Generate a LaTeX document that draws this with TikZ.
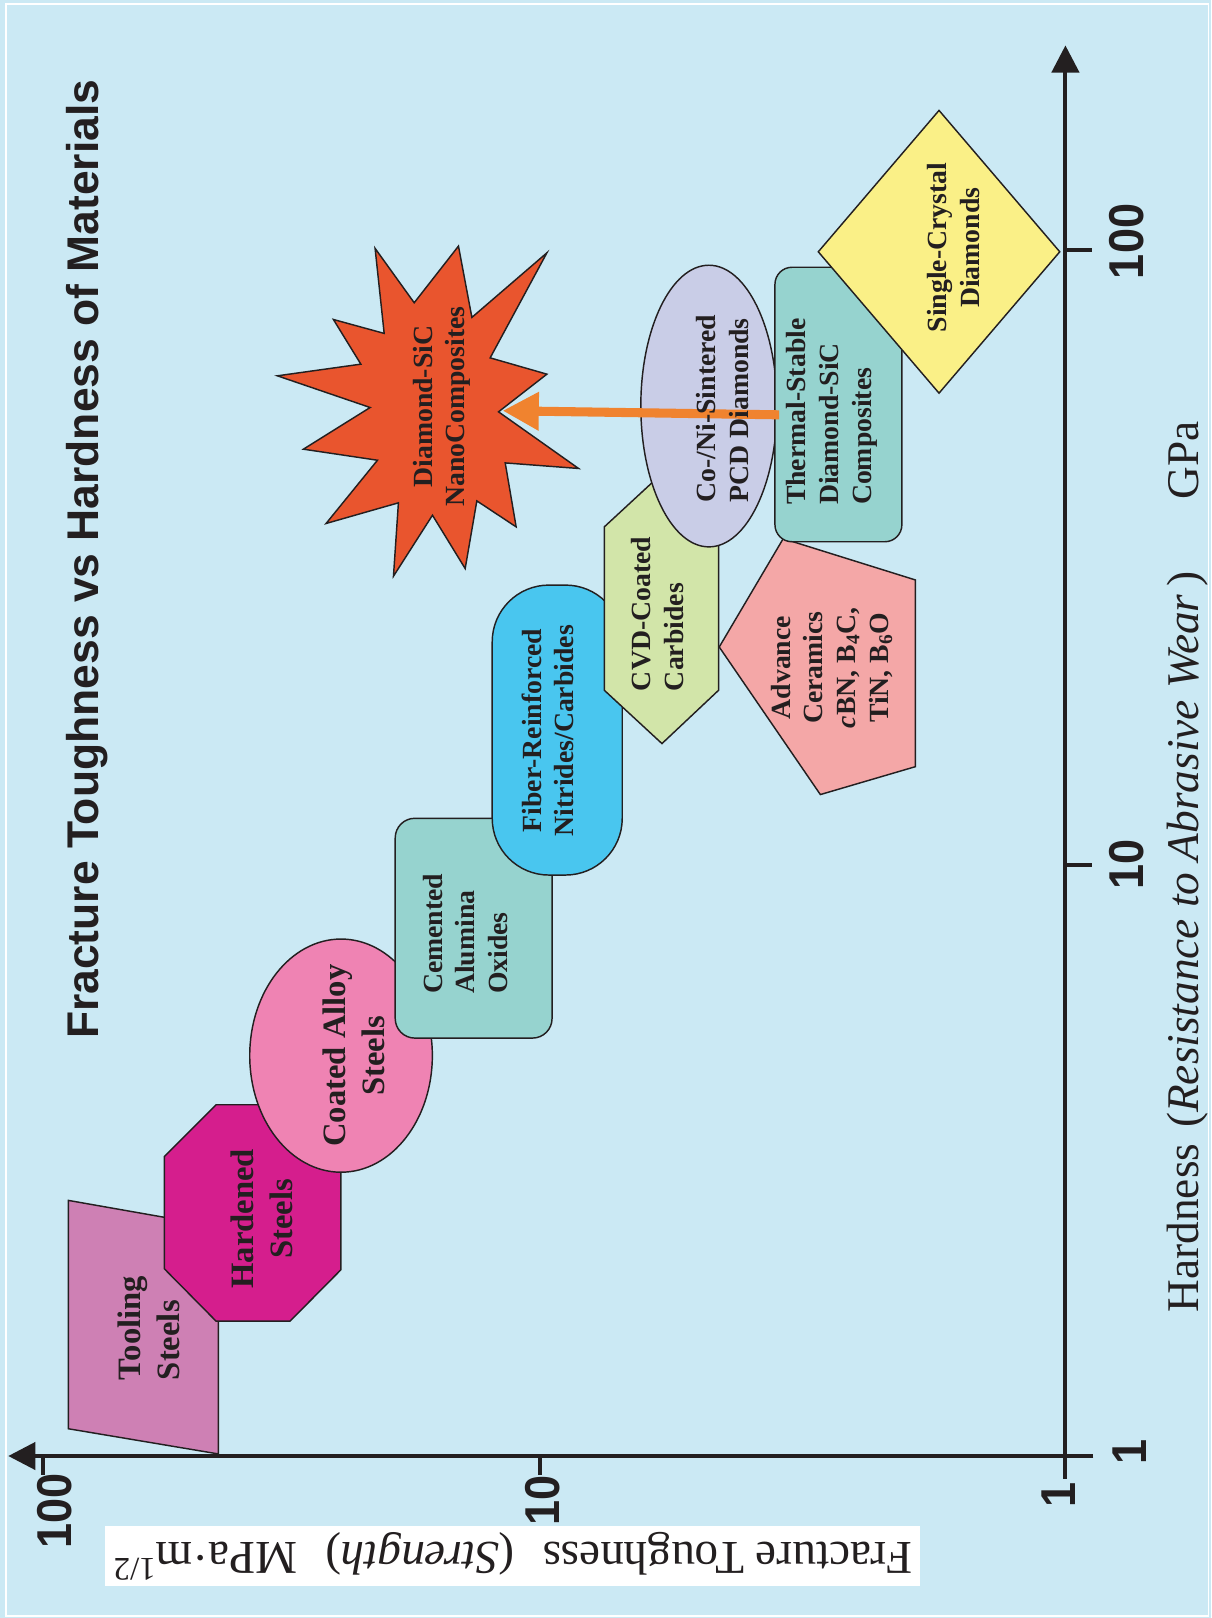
\documentclass[tikz,border=0pt]{standalone}
\usepackage{fontspec}
\setmainfont{Liberation Serif}
\newfontfamily\sansbold[FakeStretch=0.92]{Liberation Sans}
\newfontfamily\titlesans{Liberation Sans}
\usetikzlibrary{arrows.meta}

\definecolor{bgblue}{HTML}{CBE9F4}
\definecolor{textdark}{HTML}{231F20}
\definecolor{toolpink}{HTML}{CE80B4}
\definecolor{hardmag}{HTML}{D51E8D}
\definecolor{coatpink}{HTML}{EF83B3}
\definecolor{tealbox}{HTML}{96D3CF}
\definecolor{fiberblue}{HTML}{49C6EF}
\definecolor{cvdgreen}{HTML}{D2E5A9}
\definecolor{conililac}{HTML}{C9CDE7}
\definecolor{advsalmon}{HTML}{F4A7A7}
\definecolor{singleyellow}{HTML}{FAF087}
\definecolor{nanored}{HTML}{E9552E}
\definecolor{arroworange}{HTML}{F0832F}

\begin{document}
\begin{tikzpicture}[x=0.02cm, y=-0.02cm,
    shapeline/.style={draw=textdark, line width=0.8pt},
    matlabel/.style={rotate=90, text=textdark, inner sep=0pt, align=center,
      font=\bfseries\fontsize{15.3}{18}\selectfont},
    biglabel/.style={matlabel, font=\bfseries\fontsize{18}{21.5}\selectfont},
    axisline/.style={draw=textdark, line width=2.2pt},
    ticklabel/.style={rotate=90, text=textdark, inner sep=0pt,
      font=\sansbold\bfseries\fontsize{27}{27}\selectfont},
  ]
  % Background
  \useasboundingbox (0,0) rectangle (1174,1568);
  \fill[bgblue] (0,0) rectangle (1174,1568);
  \draw[white, line width=0.8pt] (6,4) rectangle (1171,1566);

  % Material regions
  \draw[shapeline, fill=toolpink] (66.3,1163.3) -- (211.7,1188.9) -- (211.7,1409) -- (66.3,1384.6) -- cycle;
  \draw[shapeline, fill=hardmag] (209.4,1070.6) -- (159.3,1120.7) -- (159.3,1229.6) -- (209.4,1280.3)
    -- (281.1,1280.3) -- (330.3,1230.6) -- (330.3,1120.7) -- (281.1,1070.6) -- cycle;
  \draw[shapeline, fill=coatpink] (330.5,1023) ellipse [x radius=1.77cm, y radius=2.26cm];
  \draw[shapeline, fill=tealbox, rounded corners=0.38cm] (383,793) rectangle (535,1006);
  \draw[shapeline, fill=fiberblue, rounded corners=1.1cm] (477,567) rectangle (603,848);
  \draw[shapeline, fill=cvdgreen] (641.5,458.9) -- (696.4,510.6) -- (696.4,668.9) -- (641.5,720.6)
    -- (585.6,668.9) -- (585.6,510.6) -- cycle;
  \draw[shapeline, fill=conililac] (687,393.5) ellipse [x radius=1.32cm, y radius=2.73cm];
  \draw[shapeline, fill=advsalmon] (759,522) -- (887,562) -- (887,743) -- (795,770) -- (697,627) -- cycle;
  \draw[shapeline, fill=tealbox, rounded corners=0.33cm] (751,259) rectangle (874,525);
  \draw[shapeline, fill=singleyellow] (910,107) -- (1027,244) -- (910,381) -- (793,244) -- cycle;

  % Starburst
  \draw[shapeline, fill=nanored] (363.5,240.7) -- (401.4,293.4) -- (444.3,238.5) -- (457.3,307.6)
    -- (530,245) -- (475,346.8) -- (530,362.6) -- (483.1,399.1) -- (560.7,454) -- (489.6,448.6)
    -- (500.2,510.6) -- (462.1,485.4) -- (450.8,551) -- (419.1,499.3) -- (381.3,558.4)
    -- (386.1,487.3) -- (316,507.3) -- (365.8,446) -- (294,435.3) -- (358.7,394.9)
    -- (268.8,364.2) -- (349.7,352.9) -- (323.1,309.6) -- (372.3,323.1) -- cycle;

  % Axes
  \draw[axisline, -{Triangle[length=15pt,width=15pt]}] (1032.5,1433) -- (1032.5,44);
  \draw[axisline, -{Triangle[length=15pt,width=15pt]}] (1059.6,1411) -- (8,1411);
  \foreach \ty in {242,838}
    \draw[axisline] (1032.5,\ty) -- (1058,\ty);
  \foreach \tx in {42,523}
    \draw[axisline] (\tx,1411) -- (\tx,1429);

  % Arrow
  \coordinate (thermaledge) at (755,402);
  \coordinate (nanotip) at (487,398);
  \draw[arroworange, line width=5pt, -{Triangle[length=20pt,width=20pt]}] (thermaledge) -- (nanotip);

  % Labels
  \node[biglabel, align=left] (tooling) at (144,1287) {Tooling\\Steels};
  \node[biglabel] (hardened) at (254,1181) {Hardened\\Steels};
  \node[biglabel] (coated) at (343,1023) {Coated Alloy\\Steels};
  \node[matlabel, align=left] (cemented) at (451,905) {Cemented\\Alumina\\Oxides};
  \node[matlabel] (fiber) at (531,708) {Fiber-Reinforced\\Nitrides/Carbides};
  \node[matlabel, align=left] (cvd) at (637,595) {CVD-Coated\\Carbides};
  \node[matlabel, align=left] (coni) at (700,396) {Co-/Ni-Sintered\\PCD Diamonds};
  \node[matlabel, align=left] (thermal) at (806,399) {Thermal-Stable\\Diamond-SiC\\Composites};
  \node[matlabel] (advance) at (806,647) {Advance\\Ceramics\\\textit{c}BN, B\textsubscript{4}C,\\TiN, B\textsubscript{6}O};
  \node[matlabel] (single) at (924,240) {Single-Crystal\\Diamonds};
  \node[matlabel] (nano) at (428,394) {Diamond-SiC\\NanoComposites};

  % Axis titles
  \node[rotate=90, text=textdark, font=\titlesans\bfseries\fontsize{24.5}{26}\selectfont] (title) at (84,542)
    {Fracture Toughness vs Hardness of Materials};
  \node[rotate=90, text=textdark, font=\fontsize{25}{27}\selectfont] (hardlabel) at (1151,840)
    {Hardness\hspace{0.35em}(\textit{Resistance to Abrasive Wear}\,)\hspace{1.6em}GPa};
  \node[rotate=180, fill=white, text=textdark, inner xsep=4pt, inner ysep=3pt, font=\fontsize{26}{28}\selectfont] (toughlabel) at (497,1508)
    {Fracture Toughness\hspace{0.6em}(\textit{Strength})\hspace{0.6em}MPa·m\textsuperscript{1/2}};

  % Tick labels
  \node[ticklabel] (h100) at (1092,234) {100};
  \node[ticklabel] (h10) at (1092,838) {10};
  \node[ticklabel] (h1) at (1095,1407) {1};
  \node[ticklabel] (t100) at (53,1464) {100};
  \node[ticklabel] (t10) at (526,1454) {10};
  \node[ticklabel] (t1) at (1026,1449) {1};
\end{tikzpicture}
\end{document}
